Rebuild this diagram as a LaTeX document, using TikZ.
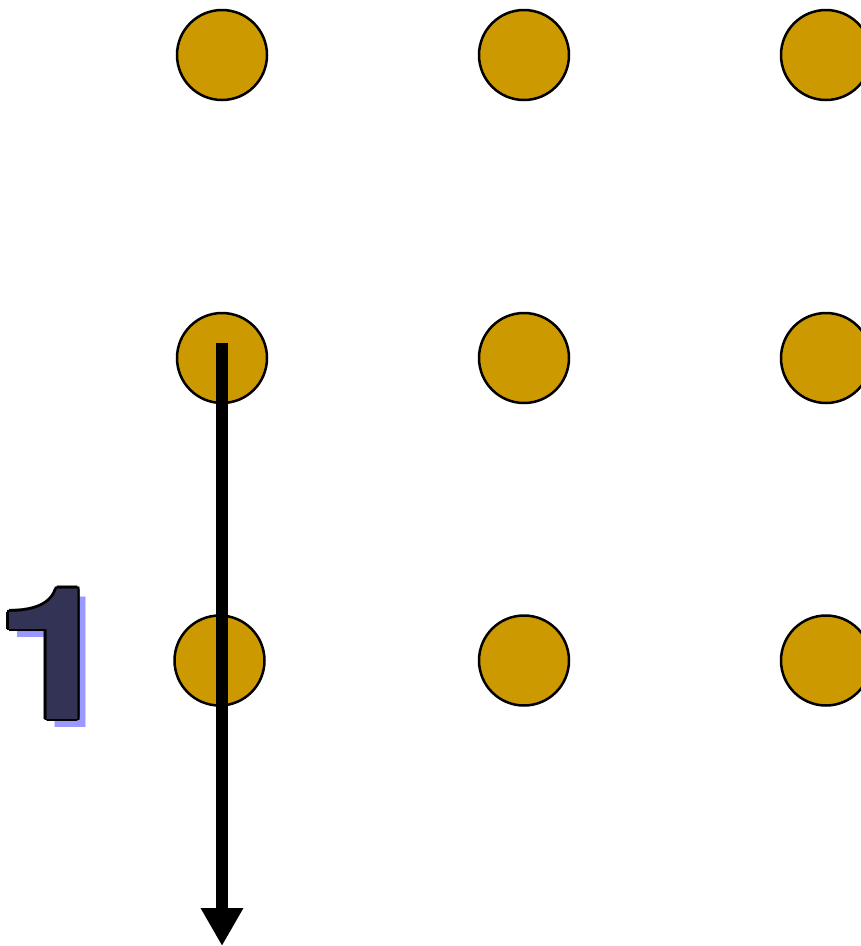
\documentclass[tikz,border=0pt]{standalone}
\usepackage{fontspec}
\newfontfamily\digitfont[FakeStretch=1.2]{TeX Gyre Heros}
\usetikzlibrary{arrows.meta}
\definecolor{gold}{HTML}{CC9900}
\definecolor{navy}{HTML}{333355}
\definecolor{shadowblue}{HTML}{9999FF}
\tikzset{
  dot/.style={circle,draw=black,line width=2.5pt,fill=gold,minimum size=90pt,inner sep=0pt},
  bigarrow/.style={line width=12pt,-{Triangle[width=40pt,length=38pt]}},
  digit/.style={inner sep=0pt,anchor=base west,font=\digitfont\bfseries\fontsize{184}{184}\selectfont}
}
\begin{document}
\begin{tikzpicture}[x=1pt,y=-1pt]
\useasboundingbox (0,0) rectangle (861,946);
\node[dot] (a1) at (222,55) {};
\node[dot] (a2) at (524,55) {};
\node[dot] (a3) at (826,55) {};
\node[dot] (b1) at (222,358) {};
\node[dot] (b2) at (524,358) {};
\node[dot] (b3) at (826,358) {};
\node[dot] (c1) at (219.5,660.5) {};
\node[dot] (c2) at (524,660.5) {};
\node[dot] (c3) at (826,660.5) {};
\coordinate (s) at (222,343);
\coordinate (e) at (222,946);
\draw[bigarrow] (s) -- (e);
% digit "1" with shadow and outline
\node[digit,text=shadowblue] (shadow) at (2,727) {1};
\foreach \dx/\dy in {2.5/0,-2.5/0,0/2.5,0/-2.5,1.8/1.8,-1.8/1.8,1.8/-1.8,-1.8/-1.8}{
  \node[digit,text=black] at (-6+\dx,719+\dy) {1};
}
\node[digit,text=navy] (one) at (-6,719) {1};
\end{tikzpicture}
\end{document}
